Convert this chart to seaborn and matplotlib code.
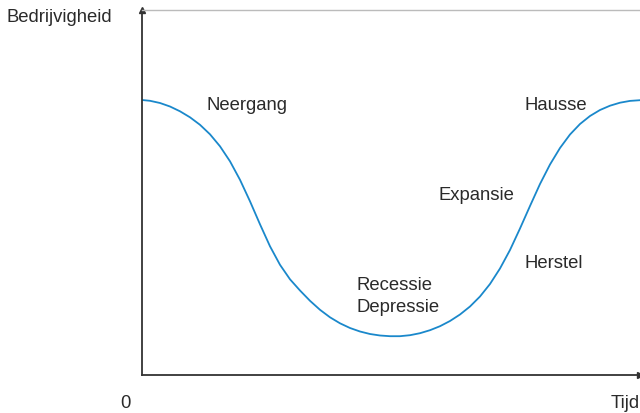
import numpy as np
import pandas as pd
import seaborn as sns
import matplotlib.pyplot as plt

# business cycle curve (arbitrary units: time 0-498, activity 0-365)
tijd = [0, 8, 18, 28, 38, 48, 58, 68, 78, 88, 98, 108, 118, 128, 138, 148, 158,
        168, 178, 188, 198, 208, 218, 228, 238, 248, 258, 268, 278, 288, 298,
        308, 318, 328, 338, 348, 358, 368, 378, 388, 398, 408, 418, 428, 438,
        448, 458, 468, 478, 488, 498]
bedrijvigheid = [275, 274.2, 272, 268.5, 263.7, 257.7, 250.2, 240.7, 228.7,
                 213.7, 195.2, 173.7, 150.7, 128.7, 110.2, 95.7, 84.5, 74.2,
                 65.2, 57.7, 51.7, 47, 43.5, 41, 39.5, 38.8, 38.8, 39.8, 41.8,
                 44.8, 48.8, 54, 60.5, 68.5, 78.5, 91, 106.5, 125, 146.5, 169,
                 191, 210.5, 227, 240.5, 251, 259, 265, 269.3, 272.3, 274.1,
                 274.8]

fasen = ["Neergang", "Hausse", "Expansie", "Herstel", "Recessie", "Depressie"]
fase_x = [65, 383, 297, 383, 215, 215]
fase_y = [269, 269, 179, 111, 90, 67]

sns.set_style("white")
plt.rcParams["font.family"] = ["Liberation Sans", "DejaVu Sans"]
tekst = "#2a2a2a"
fs = 13.3

fig = plt.figure(figsize=(6.4, 4.13), dpi=100)
ax = fig.add_axes([142 / 640, 38 / 413, 498 / 640, 365 / 413])

df = pd.DataFrame({"Tijd": tijd, "Bedrijvigheid": bedrijvigheid})
sns.lineplot(data=df, x="Tijd", y="Bedrijvigheid", ax=ax, color="#1a88cb", lw=1.3)

for naam, x, y in zip(fasen, fase_x, fase_y):
    ax.text(x, y, naam, ha="left", va="center", fontsize=fs, color=tekst)

ax.set_xlim(0, 498)
ax.set_ylim(0, 365)
ax.set_xticks([])
ax.set_yticks([])
ax.set_xlabel("")
ax.set_ylabel("")

ax.spines["right"].set_visible(False)
ax.spines["top"].set_color("#bbbbbb")
ax.spines["top"].set_linewidth(1.0)
for s in ["left", "bottom"]:
    ax.spines[s].set_color("#333333")
    ax.spines[s].set_linewidth(1.3)

# arrow heads on the axes
ax.plot(1, 0, ">", color="#333333", ms=5, transform=ax.transAxes, clip_on=False)
ax.plot(0, 1, "^", color="#333333", ms=5, transform=ax.transAxes, clip_on=False)

fig.text(7 / 640, 1 - 18 / 413, "Bedrijvigheid", ha="left", va="center",
         fontsize=fs, color=tekst)
fig.text(125 / 640, 1 - 403 / 413, "0", ha="center", va="center",
         fontsize=fs, color=tekst)
fig.text(1.0, 1 - 403 / 413, "Tijd", ha="right", va="center",
         fontsize=fs, color=tekst)

fig.savefig("out.png", dpi=100)
